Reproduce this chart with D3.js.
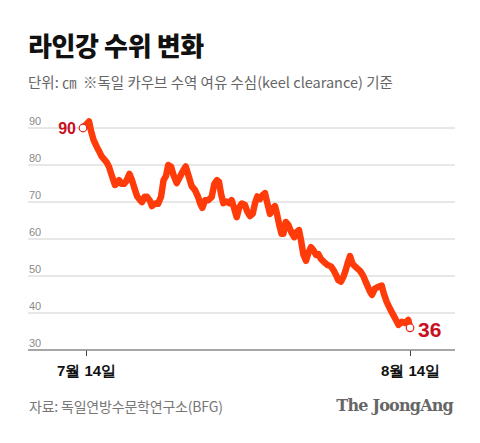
<!DOCTYPE html>
<html>
<head>
<meta charset="utf-8">
<script src="https://cdn.jsdelivr.net/npm/d3@7"></script>
<style>
  body { margin:0; background:#fff; }
  svg { display:block; font-family:"Noto Sans CJK KR","Noto Sans",sans-serif; }
  .grid line { stroke:#d0d0d0; stroke-width:1; }
  .ylab { fill:#8a8a8a; font-size:11px; font-family:"Liberation Sans",Arial,sans-serif; }
  .xaxis text { fill:#111; font-size:15px; font-weight:bold; }
</style>
</head>
<body>
<svg id="chart"></svg>
<script>
// days after 7월 14일 00:00
var dayOffset = [-0.29,0.29,0.48,0.72,1.00,1.24,1.48,1.72,1.96,2.20,2.39,2.58,2.77,2.97,3.16,3.40,3.64,3.87,4.16,4.40,
  4.66,4.88,5.17,5.36,5.60,5.84,6.12,6.31,6.60,6.89,7.18,7.42,7.65,7.87,8.13,8.37,8.68,8.99,9.31,9.54,
  9.79,10.11,10.43,10.72,10.91,11.13,11.39,11.70,12.03,12.28,12.53,12.73,12.92,13.14,13.46,13.71,13.94,14.16,14.42,14.67,
  14.90,15.21,15.43,15.69,15.95,16.17,16.39,16.65,16.91,17.13,17.35,17.60,17.86,18.08,18.27,18.49,18.71,18.88,19.11,19.36,
  19.68,19.93,20.16,20.38,20.57,20.79,21.05,21.27,21.53,21.75,22.01,22.24,22.48,22.77,23.11,23.44,23.68,23.92,24.14,24.40,
  24.62,24.85,25.07,25.26,25.52,25.90,26.22,26.53,26.86,27.17,27.36,27.65,27.97,28.29,28.51,28.77,29.09,29.40,29.66,29.90,
  30.21,30.52,30.84,31.00];
// keel clearance (cm)
var level = [90,91.8,89.2,86.8,85.1,83.8,82.4,81.6,80.8,79.5,77.8,76.2,74.6,75.1,75.9,74.9,74.9,75.7,77.6,75.9,
  73.5,71.6,70.5,70.0,71.4,71.4,70.3,68.9,69.6,69.5,71.4,75.9,77.0,80.0,79.6,77.3,75.1,76.8,78.6,79.6,
  77.3,74.3,73.2,71.4,69.7,68.4,70.5,70.5,71.4,74.9,75.9,75.4,72.2,69.7,70.1,69.7,70.5,68.4,65.9,68.6,
  69.6,69.2,67.4,66.2,66.8,69.7,71.5,70.8,71.9,72.4,69.7,66.8,68.1,68.9,66.8,63.8,61.4,61.4,64.6,63.8,
  61.6,60.5,61.9,62.4,59.7,55.9,54.1,56.2,57.8,57.0,55.7,55.9,54.6,53.8,53.0,52.6,51.6,50.3,48.9,48.5,
  49.7,51.6,53.8,55.4,53.2,52.2,51.4,50.0,47.8,45.8,44.9,46.6,47.1,47.4,45.1,43.0,41.1,39.5,38.1,36.8,
  37.6,37.3,38.1,36];
var yTicks = [30,40,50,60,70,80,90];
var xTickDates = [new Date(2022,6,14), new Date(2022,7,14)];

var width = 480, height = 443;
var svg = d3.select("#chart").attr("width",width).attr("height",height);

var start = new Date(2022,6,14);
var data = dayOffset.map(function(d,i){
  return {date:new Date(start.getTime() + d*864e5), value:level[i]};
});

var xScale = d3.scaleTime().domain(xTickDates).range([86,410]);
var yScale = d3.scaleLinear().domain([30,90]).range([350,128]);

// title
svg.append("text").attr("x",28).attr("y",56)
  .style("font-size","26px").style("font-weight","900").style("letter-spacing","-0.4px")
  .attr("fill","#111").text("라인강 수위 변화");
svg.append("text").attr("x",28).attr("y",88)
  .style("font-size","14.5px").attr("fill","#666").style("letter-spacing","0px")
  .text("단위: ㎝\u00a0\u00a0※독일 카우브 수역 여유 수심(keel clearance) 기준");

// grid
var grid = svg.append("g").attr("class","grid");
grid.selectAll("line").data(yTicks.slice(1)).enter().append("line")
  .attr("x1",28).attr("x2",455)
  .attr("y1",function(d){return yScale(d);}).attr("y2",function(d){return yScale(d);});
svg.selectAll(".ylab").data(yTicks).enter().append("text")
  .attr("class","ylab").attr("x",29)
  .attr("y",function(d){return yScale(d)-3;})
  .text(function(d){return d;});

// x axis
var xAxis = d3.axisBottom(xScale).tickValues(xTickDates).tickSize(6).tickPadding(9)
  .tickFormat(function(d){return (d.getMonth()+1)+"월 "+d.getDate()+"일";});
var gx = svg.append("g").attr("class","xaxis").attr("transform","translate(0,350)").call(xAxis);
gx.select(".domain").remove();
gx.selectAll(".tick line").attr("stroke","#444");
svg.append("line").attr("x1",28).attr("x2",455).attr("y1",350).attr("y2",350)
  .attr("stroke","#888").attr("stroke-width",1.5);

// line
var line = d3.line().x(function(d){return xScale(d.date);}).y(function(d){return yScale(d.value);});
svg.append("path").datum(data).attr("d",line)
  .attr("fill","none").attr("stroke","#ff3b0a").attr("stroke-width",6.5)
  .attr("stroke-linejoin","round").attr("stroke-linecap","round");

// end points
var ends = [data[0], data[data.length-1]];
svg.selectAll(".endpt").data(ends).enter().append("circle")
  .attr("class","endpt")
  .attr("cx",function(d){return xScale(d.date);})
  .attr("cy",function(d){return yScale(d.value);})
  .attr("r",3.8).attr("fill","#fff").attr("stroke","#e0281a").attr("stroke-width",1.2);
svg.append("text").attr("x",xScale(ends[0].date)-7).attr("y",yScale(ends[0].value)+5.5)
  .attr("text-anchor","end").attr("fill","#c8101e")
  .style("font-family","'Liberation Sans',Arial,sans-serif").style("font-size","16px").style("font-weight","bold")
  .text(ends[0].value);
svg.append("text").attr("x",xScale(ends[1].date)+8).attr("y",yScale(ends[1].value)+9)
  .attr("fill","#c8101e")
  .style("font-family","'Liberation Sans',Arial,sans-serif").style("font-size","21px").style("font-weight","bold")
  .text(ends[1].value);

// footer
svg.append("text").attr("x",29).attr("y",412)
  .style("font-size","14px").attr("fill","#777").style("letter-spacing","-0.2px")
  .text("자료: 독일연방수문학연구소(BFG)");
svg.append("text").attr("x",453).attr("y",411).attr("text-anchor","end")
  .style("font-family","'DejaVu Serif','Liberation Serif',serif").style("font-size","16px").style("font-weight","bold")
  .style("letter-spacing","-0.8px")
  .attr("fill","#666").text("The JoongAng");
</script>
</body>
</html>
